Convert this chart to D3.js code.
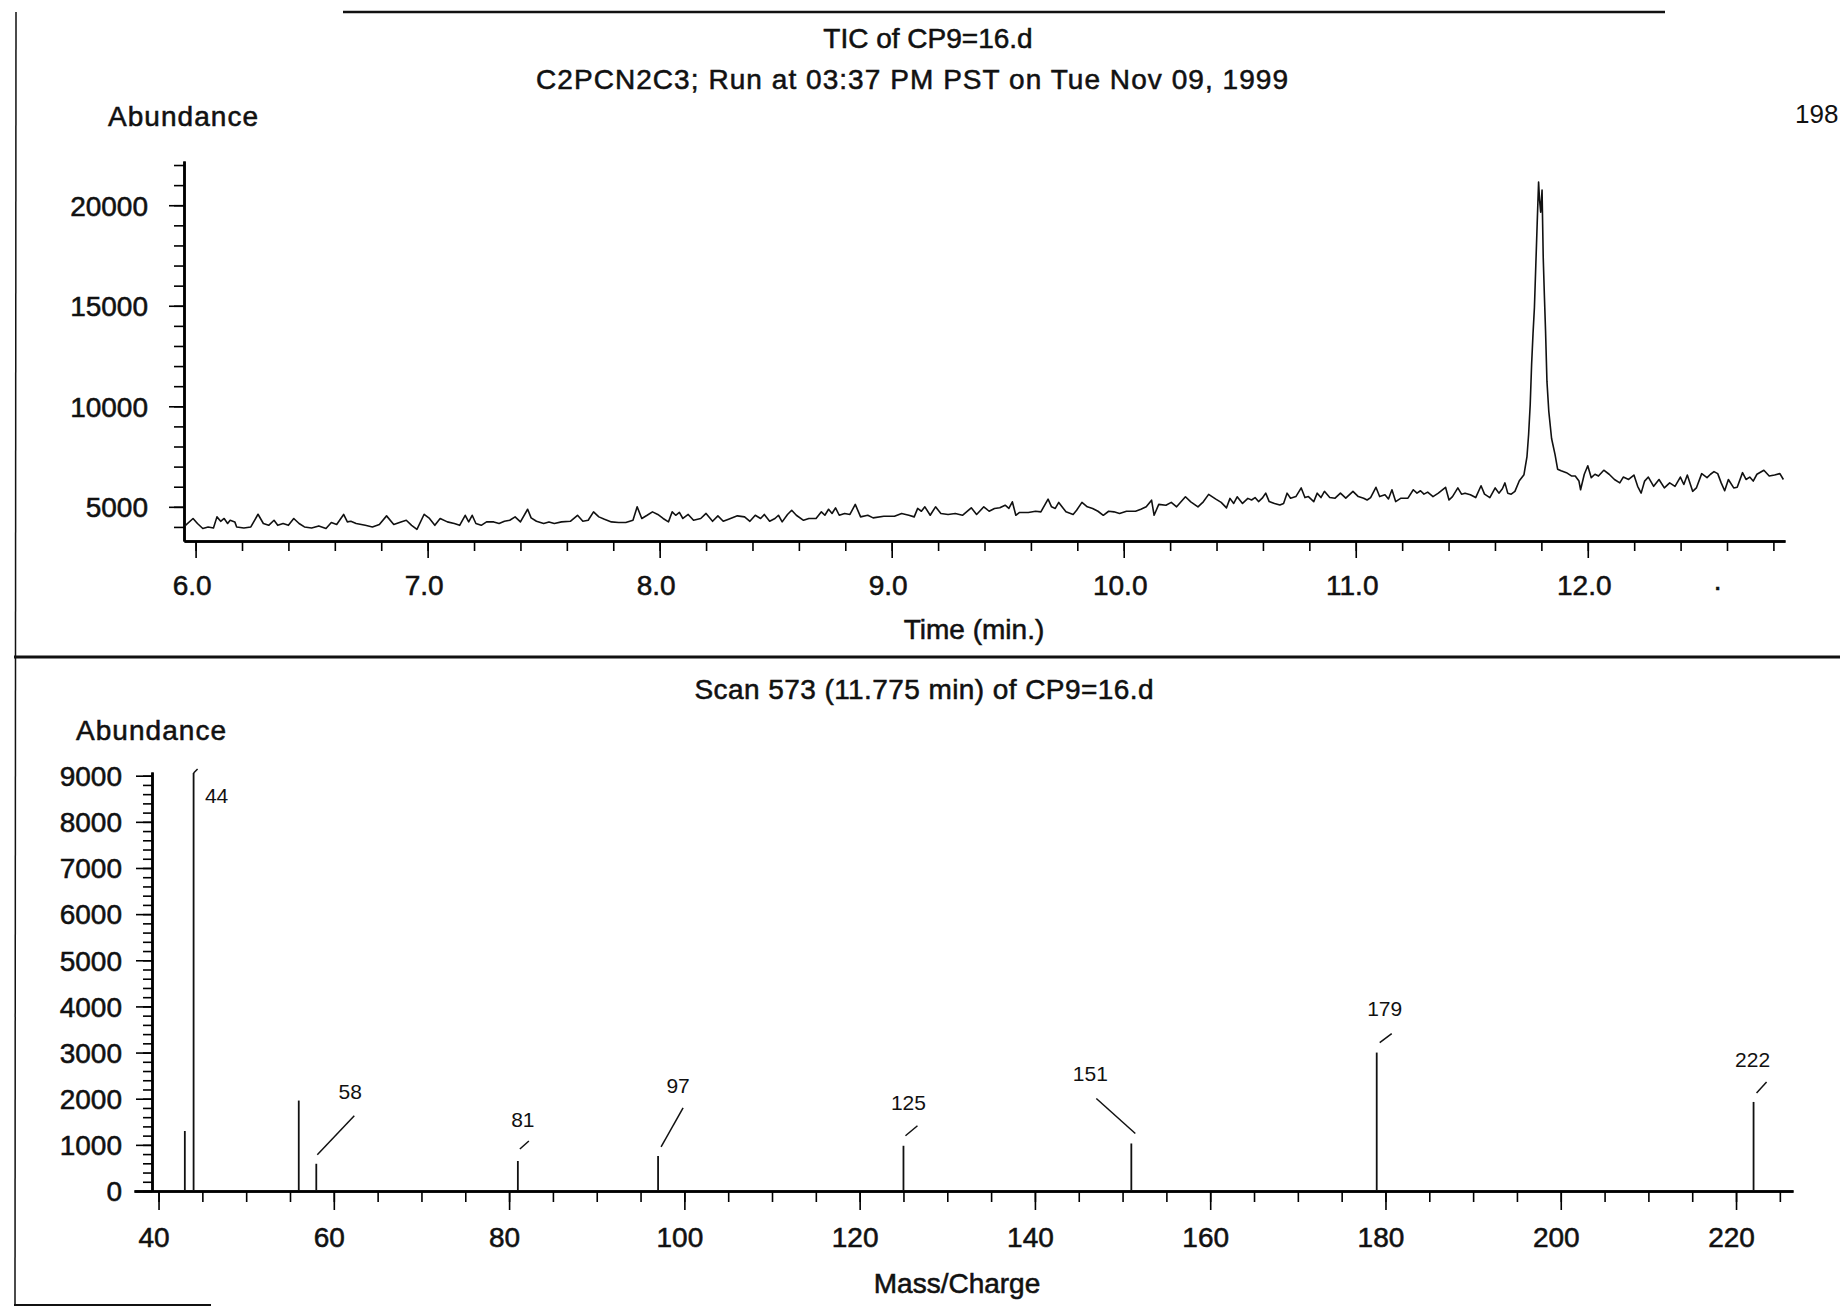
<!DOCTYPE html>
<html>
<head>
<meta charset="utf-8">
<title>TIC of CP9=16.d</title>
<script src="https://d3js.org/d3.v7.min.js"></script>
<style>
  body { margin: 0; background: #fff; }
  svg { display: block; background: #fff; }
  text { font-family: "Liberation Sans", Arial, sans-serif; fill: #111; }
  .lbl { font-size: 28px; stroke: #111; stroke-width: 0.55px; }
  .pk { font-size: 21px; }
</style>
</head>
<body>
<div id="chart"></div>
<script>
// total ion chromatogram: [time (min), abundance]
const ticScans = [
  [5.954,4050],[5.989,4420],[6.008,4170],[6.031,3920],[6.054,4000],[6.077,3950],[6.092,4500],[6.108,4280],
  [6.123,4420],[6.138,4170],[6.149,4330],[6.169,4250],[6.177,4000],[6.208,3950],[6.238,4000],[6.269,4630],
  [6.292,4170],[6.315,4080],[6.338,4330],[6.354,4080],[6.377,4170],[6.400,4080],[6.423,4420],[6.446,4170],
  [6.469,4000],[6.500,3950],[6.531,4050],[6.562,3920],[6.585,4220],[6.608,4120],[6.638,4620],[6.654,4250],
  [6.669,4280],[6.692,4170],[6.731,4080],[6.762,4000],[6.792,4120],[6.823,4550],[6.854,4120],[6.885,4250],
  [6.908,4330],[6.931,4080],[6.954,3880],[6.985,4630],[7.008,4420],[7.031,4080],[7.054,4420],[7.085,4250],
  [7.115,4170],[7.138,4080],[7.162,4580],[7.177,4250],[7.192,4580],[7.208,4170],[7.231,4080],[7.254,4250],
  [7.285,4250],[7.308,4170],[7.331,4280],[7.354,4330],[7.377,4500],[7.400,4250],[7.431,4880],[7.446,4450],
  [7.469,4280],[7.500,4170],[7.523,4250],[7.546,4170],[7.577,4250],[7.615,4280],[7.646,4580],[7.669,4280],
  [7.692,4330],[7.715,4750],[7.738,4500],[7.762,4380],[7.792,4250],[7.823,4220],[7.854,4220],[7.885,4330],
  [7.903,5000],[7.923,4420],[7.946,4580],[7.969,4750],[7.992,4620],[8.015,4420],[8.038,4250],[8.054,4750],
  [8.069,4580],[8.085,4720],[8.100,4420],[8.123,4620],[8.146,4330],[8.177,4420],[8.200,4670],[8.228,4280],
  [8.251,4550],[8.274,4280],[8.297,4380],[8.335,4550],[8.366,4500],[8.389,4280],[8.412,4580],[8.435,4420],
  [8.451,4620],[8.474,4280],[8.497,4420],[8.512,4580],[8.528,4250],[8.551,4620],[8.569,4830],[8.589,4580],
  [8.620,4330],[8.643,4420],[8.674,4420],[8.697,4750],[8.712,4580],[8.728,4880],[8.743,4670],[8.758,4950],
  [8.774,4580],[8.797,4670],[8.820,4620],[8.843,5120],[8.866,4500],[8.897,4580],[8.920,4450],[8.966,4530],
  [9.012,4530],[9.043,4670],[9.074,4580],[9.097,4500],[9.112,4920],[9.128,4780],[9.143,5000],[9.166,4580],
  [9.189,5000],[9.212,4670],[9.243,4620],[9.274,4670],[9.305,4580],[9.343,4950],[9.366,4620],[9.397,5000],
  [9.420,4780],[9.443,4920],[9.466,4950],[9.489,5080],[9.505,4920],[9.520,5250],[9.535,4580],[9.551,4720],
  [9.589,4720],[9.620,4780],[9.643,4750],[9.674,5380],[9.689,5000],[9.705,4920],[9.720,5220],[9.751,4750],
  [9.782,4620],[9.797,4830],[9.820,5220],[9.843,5000],[9.866,4920],[9.889,4780],[9.912,4580],[9.935,4780],
  [9.958,4750],[9.982,4670],[10.012,4780],[10.051,4780],[10.074,4880],[10.097,5000],[10.120,5330],[10.131,4580],
  [10.151,5120],[10.182,5080],[10.205,5220],[10.228,5000],[10.266,5500],[10.289,5250],[10.320,5000],[10.343,5250],
  [10.366,5620],[10.397,5380],[10.420,5220],[10.443,4950],[10.458,5420],[10.474,5170],[10.489,5500],[10.512,5170],
  [10.535,5420],[10.551,5340],[10.566,5460],[10.581,5260],[10.597,5430],[10.612,5680],[10.627,5260],[10.650,5170],
  [10.673,5090],[10.689,5170],[10.704,5680],[10.719,5430],[10.742,5510],[10.765,5940],[10.781,5460],[10.796,5510],
  [10.819,5260],[10.834,5680],[10.850,5460],[10.865,5770],[10.888,5460],[10.911,5430],[10.934,5680],[10.957,5430],
  [10.988,5770],[11.011,5510],[11.034,5430],[11.049,5340],[11.064,5460],[11.087,5970],[11.103,5510],[11.126,5600],
  [11.141,5390],[11.156,5850],[11.172,5260],[11.195,5430],[11.225,5430],[11.248,5850],[11.264,5680],[11.279,5800],
  [11.294,5630],[11.310,5730],[11.333,5510],[11.356,5680],[11.387,5970],[11.402,5340],[11.417,5510],[11.440,5940],
  [11.456,5630],[11.471,5680],[11.494,5600],[11.517,5460],[11.540,6050],[11.555,5630],[11.578,5460],[11.601,5940],
  [11.617,5680],[11.632,5900],[11.643,6190],[11.655,5680],[11.670,5630],[11.686,5770],[11.705,6300],[11.725,6600],
  [11.738,7500],[11.745,8600],[11.752,10100],[11.758,12100],[11.764,13600],[11.770,14900],[11.776,17000],[11.782,19100],
  [11.788,21150],[11.792,20300],[11.797,19650],[11.803,20750],[11.808,17400],[11.813,15500],[11.818,13750],[11.824,11250],
  [11.832,9750],[11.844,8400],[11.859,7600],[11.870,6870],[11.885,6790],[11.908,6700],[11.931,6530],[11.946,6530],
  [11.962,6280],[11.969,5850],[11.985,6620],[12.000,7040],[12.015,6450],[12.031,6620],[12.046,6530],[12.069,6820],
  [12.092,6620],[12.115,6360],[12.138,6190],[12.153,6480],[12.176,6360],[12.199,6580],[12.215,6020],[12.230,5680],
  [12.245,6280],[12.261,6480],[12.284,6020],[12.307,6360],[12.330,5940],[12.353,6190],[12.376,6020],[12.399,6480],
  [12.414,6110],[12.429,6580],[12.452,5770],[12.468,5940],[12.491,6650],[12.514,6450],[12.529,6620],[12.544,6750],
  [12.560,6650],[12.575,6190],[12.590,5800],[12.606,6360],[12.629,5940],[12.644,5970],[12.667,6700],[12.682,6360],
  [12.698,6480],[12.713,6280],[12.729,6620],[12.759,6820],[12.782,6530],[12.805,6580],[12.828,6650],[12.843,6360]
];
const ticTimeLabels = [6, 7, 8, 9, 10, 11, 12];
const ticAbundLabels = [5000, 10000, 15000, 20000];

// scan 573 mass spectrum
const massCharge = [43, 44, 56, 58, 81, 97, 125, 151, 179, 222];
const massAbund  = [1300, 9060, 1960, 590, 650, 760, 980, 1030, 3000, 1930];
const labelledMasses = [44, 58, 81, 97, 125, 151, 179, 222];
const mzLabels = [40, 60, 80, 100, 120, 140, 160, 180, 200, 220];
const specAbundLabels = [0, 1000, 2000, 3000, 4000, 5000, 6000, 7000, 8000, 9000];

const W = 1840, H = 1307;
const ink = "#111";

const svg = d3.select("#chart").append("svg")
  .attr("width", W)
  .attr("height", H);

// page frame lines
svg.append("line").attr("x1", 343).attr("y1", 12).attr("x2", 1665).attr("y2", 12)
  .attr("stroke", ink).attr("stroke-width", 2.5);
svg.append("line").attr("x1", 16).attr("y1", 12).attr("x2", 15).attr("y2", 1305)
  .attr("stroke", ink).attr("stroke-width", 1.5);
svg.append("line").attr("x1", 14).attr("y1", 657).attr("x2", W).attr("y2", 657)
  .attr("stroke", ink).attr("stroke-width", 3);
svg.append("line").attr("x1", 14).attr("y1", 1305).attr("x2", 211).attr("y2", 1305)
  .attr("stroke", ink).attr("stroke-width", 2);

// ---------- top: TIC ----------
const xT = d3.scaleLinear().domain([5.95, 12.85]).range([184, 1785]);
const yT = d3.scaleLinear().domain([3300, 22200]).range([541, 161]);

svg.append("text").attr("class", "lbl").attr("x", 928).attr("y", 38).attr("dy", "0.35em")
  .attr("text-anchor", "middle").text("TIC of CP9=16.d");
svg.append("text").attr("class", "lbl").attr("x", 912).attr("y", 79).attr("dy", "0.35em")
  .attr("text-anchor", "middle").attr("textLength", 752).attr("lengthAdjust", "spacing")
  .text("C2PCN2C3; Run at 03:37 PM PST on Tue Nov 09, 1999");
svg.append("text").attr("class", "lbl").attr("x", 108).attr("y", 116).attr("dy", "0.35em")
  .attr("textLength", 150).attr("lengthAdjust", "spacing").text("Abundance");
svg.append("text").attr("x", 1795).attr("y", 114).attr("dy", "0.35em")
  .style("font-size", "26px").text("198");

// minor ticks
svg.append("g").attr("transform", "translate(0,541)")
  .call(d3.axisBottom(xT).tickValues(xT.ticks(35)).tickSize(10).tickSizeOuter(0).tickFormat(""));
svg.append("g").attr("transform", "translate(184,0)")
  .call(d3.axisLeft(yT).tickValues(yT.ticks(19)).tickSize(10).tickSizeOuter(0).tickFormat(""));

// labelled ticks
const gxT = svg.append("g").attr("transform", "translate(0,541)")
  .call(d3.axisBottom(xT).tickValues(ticTimeLabels).tickSize(17).tickSizeOuter(0).tickFormat(d3.format(".1f")));
gxT.selectAll("text").attr("class", "lbl").attr("y", 44).attr("dy", "0.35em").attr("dx", -4);
const gyT = svg.append("g").attr("transform", "translate(184,0)")
  .call(d3.axisLeft(yT).tickValues(ticAbundLabels).tickSize(15).tickSizeOuter(0).tickFormat(d3.format("d")));
gyT.selectAll("text").attr("class", "lbl").attr("x", -36).attr("dy", "0.35em");

svg.selectAll(".domain").attr("stroke-width", 2.5);
svg.selectAll(".tick line").attr("stroke-width", 1.6);

svg.append("text").attr("class", "lbl").attr("x", xT(12.56)).attr("y", 590).attr("text-anchor", "middle").text(".");
svg.append("text").attr("class", "lbl").attr("x", 974).attr("y", 629).attr("dy", "0.35em")
  .attr("text-anchor", "middle").text("Time (min.)");

const ticLine = d3.line().x(d => xT(d[0])).y(d => yT(d[1]));
svg.append("path").datum(ticScans)
  .attr("d", ticLine)
  .attr("fill", "none")
  .attr("stroke", ink)
  .attr("stroke-width", 1.6)
  .attr("stroke-linejoin", "round");

// ---------- bottom: mass spectrum ----------
const xB = d3.scaleLinear().domain([37.2, 226.5]).range([134, 1793]);
const yB = d3.scaleLinear().domain([0, 9080]).range([1191, 772]);

svg.append("text").attr("class", "lbl").attr("x", 924).attr("y", 689).attr("dy", "0.35em")
  .attr("text-anchor", "middle").attr("textLength", 459).attr("lengthAdjust", "spacing")
  .text("Scan 573 (11.775 min) of CP9=16.d");
svg.append("text").attr("class", "lbl").attr("x", 76).attr("y", 730).attr("dy", "0.35em")
  .attr("textLength", 150).attr("lengthAdjust", "spacing").text("Abundance");

const bottomAxes = svg.append("g");
bottomAxes.append("g").attr("transform", "translate(0,1191)")
  .call(d3.axisBottom(xB).tickValues(xB.ticks(38)).tickSize(11).tickSizeOuter(0).tickFormat(""));
bottomAxes.append("g").attr("transform", "translate(152,0)")
  .call(d3.axisLeft(yB).tickValues(yB.ticks(45)).tickSize(9).tickSizeOuter(0).tickFormat(""));
const gxB = bottomAxes.append("g").attr("transform", "translate(0,1191)")
  .call(d3.axisBottom(xB).tickValues(mzLabels).tickSize(19).tickSizeOuter(0).tickFormat(d3.format("d")));
gxB.selectAll("text").attr("class", "lbl").attr("y", 46).attr("dy", "0.35em").attr("dx", -5);
const gyB = bottomAxes.append("g").attr("transform", "translate(152,0)")
  .call(d3.axisLeft(yB).tickValues(specAbundLabels).tickSize(16).tickSizeOuter(0).tickFormat(d3.format("d")));
gyB.selectAll("text").attr("class", "lbl").attr("x", -30).attr("dy", "0.35em");
bottomAxes.selectAll(".domain").attr("stroke-width", 2.5);
bottomAxes.selectAll(".tick line").attr("stroke-width", 1.6);

svg.append("text").attr("class", "lbl").attr("x", 957).attr("y", 1283).attr("dy", "0.35em")
  .attr("text-anchor", "middle").text("Mass/Charge");

const spectrum = massCharge.map((m, i) => ({ mz: m, ab: massAbund[i] }));
svg.append("g").selectAll("line").data(spectrum).join("line")
  .attr("x1", d => xB(d.mz)).attr("x2", d => xB(d.mz))
  .attr("y1", yB(0)).attr("y2", d => yB(d.ab))
  .attr("stroke", ink).attr("stroke-width", 1.8);

// label placement: text offset and leader line relative to the peak top
const pkPlace = {
  44:  { tx: 23,  ty: 23,  lead: [0, 0, 4, -4] },
  58:  { tx: 34,  ty: -72, lead: [1, -9, 38, -48] },
  81:  { tx: 5,   ty: -41, lead: [2, -12, 11, -20] },
  97:  { tx: 20,  ty: -70, lead: [3, -9, 25, -48] },
  125: { tx: 5,   ty: -43, lead: [2, -10, 14, -20] },
  151: { tx: -41, ty: -70, lead: [4, -10, -35, -45] },
  179: { tx: 8,   ty: -44, lead: [3, -10, 15, -19] },
  222: { tx: -1,  ty: -42, lead: [3, -9, 13, -20] }
};
const labelled = spectrum.filter(d => labelledMasses.includes(d.mz));
const pkG = svg.append("g");
pkG.selectAll("line").data(labelled).join("line")
  .attr("x1", d => xB(d.mz) + pkPlace[d.mz].lead[0])
  .attr("y1", d => yB(d.ab) + pkPlace[d.mz].lead[1])
  .attr("x2", d => xB(d.mz) + pkPlace[d.mz].lead[2])
  .attr("y2", d => yB(d.ab) + pkPlace[d.mz].lead[3])
  .attr("stroke", ink).attr("stroke-width", 1.5);
pkG.selectAll("text").data(labelled).join("text")
  .attr("class", "pk")
  .attr("x", d => xB(d.mz) + pkPlace[d.mz].tx)
  .attr("y", d => yB(d.ab) + pkPlace[d.mz].ty)
  .attr("dy", "0.35em")
  .attr("text-anchor", "middle")
  .text(d => d.mz);
</script>
</body>
</html>
